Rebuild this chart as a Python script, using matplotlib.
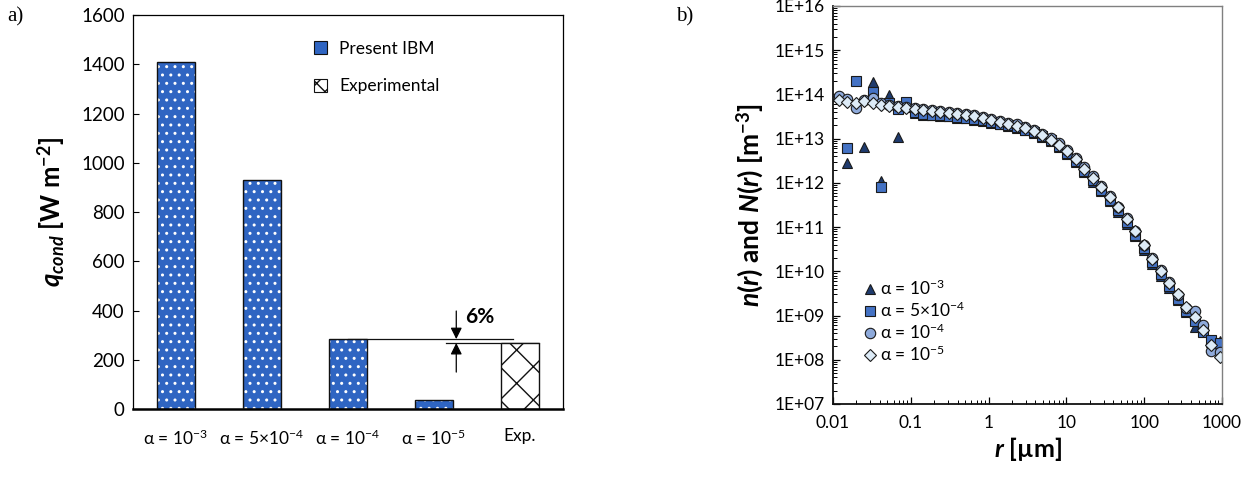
import numpy as np
import matplotlib
matplotlib.use("Agg")
import matplotlib.pyplot as plt
from matplotlib.patches import Patch
from matplotlib.ticker import LogLocator, FixedLocator, FuncFormatter, NullFormatter

plt.rcParams['font.family'] = ['Lato', 'DejaVu Sans']
plt.rcParams['mathtext.fontset'] = 'custom'
plt.rcParams['mathtext.rm'] = 'Lato'
plt.rcParams['mathtext.it'] = 'Lato:italic'
plt.rcParams['mathtext.bf'] = 'Lato:bold'
plt.rcParams['mathtext.bfit'] = 'Lato:italic:bold'
plt.rcParams['hatch.linewidth'] = 1.0

# ---- panel a) conductive heat flux ----
cases = [r'α = 10$^{-3}$', r'α = 5×10$^{-4}$', r'α = 10$^{-4}$', r'α = 10$^{-5}$', 'Exp.']
q_ibm = [1410, 930, 284, 38]
q_exp = 268
diff_pct = '6%'

# ---- panel b) size distributions ----
r_um = [0.0118, 0.0152, 0.0195, 0.0251, 0.0322, 0.0414, 0.0532, 0.0684, 0.0879, 0.113,
        0.145, 0.186, 0.239, 0.308, 0.395, 0.508, 0.653, 0.839, 1.08, 1.39,
        1.78, 2.29, 2.94, 3.78, 4.86, 6.24, 8.02, 10.3, 13.2, 17.0,
        21.9, 28.1, 36.1, 46.4, 59.6, 76.6, 98.4, 126, 162, 209,
        268, 344, 443, 569, 731, 939]
n_a1e3 = [np.nan, 2.8e12, np.nan, 6.5e12, 1.95e14, 1.1e12, 9.6e13, 1.1e13, 5.2e13, 3.8e13,
          3.5e13, 3.4e13, 3.3e13, 3.2e13, 3.0e13, 2.9e13, 2.7e13, 2.5e13, 2.3e13, 2.1e13,
          1.9e13, 1.7e13, 1.55e13, 1.35e13, 1.1e13, 8.8e12, 6.5e12, 4.5e12, 2.9e12, 1.75e12,
          1.05e12, 6.4e11, 3.8e11, 2.2e11, 1.2e11, 6.2e10, 3.0e10, 1.5e10, 7.8e9, 4.2e9,
          2.2e9, 1.2e9, 5.5e8, 4.5e8, 2.5e8, 2.6e8]
n_a5e4 = [np.nan, 6.0e12, 2.0e14, np.nan, 1.15e14, 7.9e11, 6.4e13, 4.7e13, 6.8e13, 4.0e13,
          3.6e13, 3.5e13, 3.4e13, 3.3e13, 3.1e13, 3.0e13, 2.8e13, 2.6e13, 2.4e13, 2.2e13,
          2.0e13, 1.8e13, 1.6e13, 1.4e13, 1.15e13, 9.3e12, 6.9e12, 4.8e12, 3.1e12, 1.9e12,
          1.15e12, 7.0e11, 4.2e11, 2.4e11, 1.3e11, 6.8e10, 3.3e10, 1.65e10, 8.6e9, 4.6e9,
          2.4e9, 1.3e9, 7.5e8, 4.2e8, 2.8e8, 2.4e8]
n_a1e4 = [9.2e13, 7.8e13, 5.0e13, 7.5e13, 8.3e13, 6.5e13, 5.8e13, 5.5e13, 5.2e13, 4.9e13,
          4.7e13, 4.5e13, 4.3e13, 4.1e13, 3.9e13, 3.6e13, 3.35e13, 3.1e13, 2.8e13, 2.55e13,
          2.3e13, 2.1e13, 1.85e13, 1.6e13, 1.3e13, 1.05e13, 7.8e12, 5.6e12, 3.7e12, 2.25e12,
          1.4e12, 8.6e11, 5.1e11, 2.9e11, 1.6e11, 8.3e10, 4.0e10, 2.0e10, 1.05e10, 5.6e9,
          2.9e9, 1.5e9, 1.3e9, 6.0e8, 1.6e8, 1.5e8]
n_a1e5 = [7.4e13, 6.8e13, 6.5e13, 7.2e13, 6.5e13, 5.8e13, 5.4e13, 5.2e13, 5.0e13, 4.6e13,
          4.5e13, 4.3e13, 4.1e13, 3.9e13, 3.7e13, 3.45e13, 3.2e13, 2.95e13, 2.65e13, 2.4e13,
          2.15e13, 1.95e13, 1.75e13, 1.5e13, 1.2e13, 9.5e12, 7.2e12, 5.2e12, 3.4e12, 2.1e12,
          1.3e12, 8.2e11, 4.9e11, 2.8e11, 1.55e11, 8.0e10, 3.9e10, 1.9e10, 1.0e10, 5.4e9,
          3.0e9, 1.6e9, 9.2e8, 4.8e8, 2.2e8, 1.15e8]

x_ticks = [0.01, 0.1, 1, 10, 100, 1000]
x_ticklabels = ['0.01', '0.1', '1', '10', '100', '1000']

bar_blue = '#2f65c2'

fig = plt.figure(figsize=(12.57, 4.79), dpi=100)

# left panel
ax1 = fig.add_axes([0.1058, 0.1461, 0.342, 0.8225])
pos = np.arange(len(cases))
w = 0.44
ax1.bar(pos[:4], q_ibm, width=w, color=bar_blue, edgecolor='white', hatch='..', linewidth=0, zorder=2)
ax1.bar(pos[:4], q_ibm, width=w, fill=False, edgecolor='#111111', linewidth=1.0, zorder=3)
ax1.bar(pos[4], q_exp, width=w, color='white', edgecolor='#111111', hatch='x', linewidth=1.0, zorder=2)

# reference lines for the 6 % gap
ax1.plot([pos[2], 3.92], [q_ibm[2], q_ibm[2]], color='#111111', lw=0.9, zorder=1)
ax1.plot([3.14, pos[4] + w / 2], [q_exp, q_exp], color='#111111', lw=0.9, zorder=1)
xa = 3.26
ax1.annotate('', xy=(xa, q_ibm[2]), xytext=(xa, 398),
             arrowprops=dict(arrowstyle='-|>', color='black', lw=0.9, mutation_scale=17, shrinkA=0, shrinkB=0))
ax1.annotate('', xy=(xa, q_exp), xytext=(xa, 150),
             arrowprops=dict(arrowstyle='-|>', color='black', lw=0.9, mutation_scale=17, shrinkA=0, shrinkB=0))
ax1.text(3.36, 372, diff_pct, fontsize=15, fontweight='bold', va='center', ha='left')

ax1.set_xlim(-0.5, 4.5)
ax1.set_ylim(0, 1600)
ax1.set_yticks(np.arange(0, 1601, 200))
ax1.set_xticks(pos)
ax1.set_xticklabels(cases)
ax1.tick_params(axis='x', length=0, pad=14, labelsize=12.5)
ax1.tick_params(axis='y', direction='in', length=4, labelsize=13.5, pad=6)
for s in ['top', 'right', 'left']:
    ax1.spines[s].set_linewidth(0.9)
ax1.spines['bottom'].set_linewidth(1.8)
ax1.set_ylabel(r'$\mathbfit{q}_{\mathbfit{cond}}$ [W m$^{\mathbf{-2}}$]', fontsize=18.5,
               fontweight='bold', labelpad=10)

leg_handles = [Patch(facecolor=bar_blue, edgecolor='#111111', linewidth=0.8),
               Patch(facecolor='white', edgecolor='#111111', hatch='xx', linewidth=0.8)]
ax1.legend(leg_handles, ['Present IBM', 'Experimental'], loc='upper left',
           bbox_to_anchor=(0.385, 0.975), frameon=False, fontsize=12.5,
           handlelength=0.75, handleheight=0.75, handletextpad=0.7, labelspacing=1.25)

fig.text(0.006, 0.965, 'a)', family='Liberation Serif', fontsize=15, va='center')
fig.text(0.538, 0.965, 'b)', family='Liberation Serif', fontsize=15, va='center')

# right panel
ax2 = fig.add_axes([0.6627, 0.1566, 0.3095, 0.8309])
series = [
    (n_a1e3, '^', '#1f3b6e', 7.5, r'α = 10$^{-3}$'),
    (n_a5e4, 's', '#4472c4', 7.0, r'α = 5×10$^{-4}$'),
    (n_a1e4, 'o', '#8eaadb', 7.5, r'α = 10$^{-4}$'),
    (n_a1e5, 'D', '#ddebf7', 6.3, r'α = 10$^{-5}$'),
]
for vals, mk, col, ms, lab in series:
    ax2.plot(r_um, vals, linestyle='none', marker=mk, markersize=ms, markerfacecolor=col,
             markeredgecolor='#1a1a1a', markeredgewidth=0.8, label=lab)

ax2.set_xscale('log')
ax2.set_yscale('log')
ax2.set_xlim(0.01, 1000)
ax2.set_ylim(1e7, 1e16)
ax2.xaxis.set_major_locator(FixedLocator(x_ticks))
ax2.set_xticklabels(x_ticklabels)
ax2.xaxis.set_minor_locator(LogLocator(base=10, subs=np.arange(2, 10), numticks=20))
ax2.xaxis.set_minor_formatter(NullFormatter())
ax2.yaxis.set_major_locator(LogLocator(base=10, numticks=20))
ax2.yaxis.set_minor_locator(LogLocator(base=10, subs=np.arange(2, 10), numticks=20))
ax2.yaxis.set_major_formatter(FuncFormatter(lambda v, p: '1E+%02d' % int(round(np.log10(v)))))
ax2.yaxis.set_minor_formatter(NullFormatter())
ax2.tick_params(which='major', direction='in', length=5, width=0.9, labelsize=12.5)
ax2.tick_params(which='minor', direction='in', length=3, width=0.7)
ax2.tick_params(axis='x', pad=8)
ax2.tick_params(axis='y', pad=6)
for s in ['left', 'bottom']:
    ax2.spines[s].set_linewidth(1.3)
    ax2.spines[s].set_color('#111111')
for s in ['top', 'right']:
    ax2.spines[s].set_linewidth(1.0)
    ax2.spines[s].set_color('#808080')
ax2.set_xlabel(r'$\mathbfit{r}$ [µm]', fontsize=18, fontweight='bold', labelpad=3)
ax2.set_ylabel(r'$\mathbfit{n}$($\mathbfit{r}$) and $\mathbfit{N}$($\mathbfit{r}$) [m$^{\mathbf{-3}}$]',
               fontsize=19, fontweight='bold', labelpad=6)
ax2.legend(loc='lower left', bbox_to_anchor=(0.05, 0.07), frameon=False, fontsize=12.5,
           handlelength=0.6, handletextpad=0.3, labelspacing=0.15, borderpad=0.2)

fig.savefig('out.png', dpi=100)
